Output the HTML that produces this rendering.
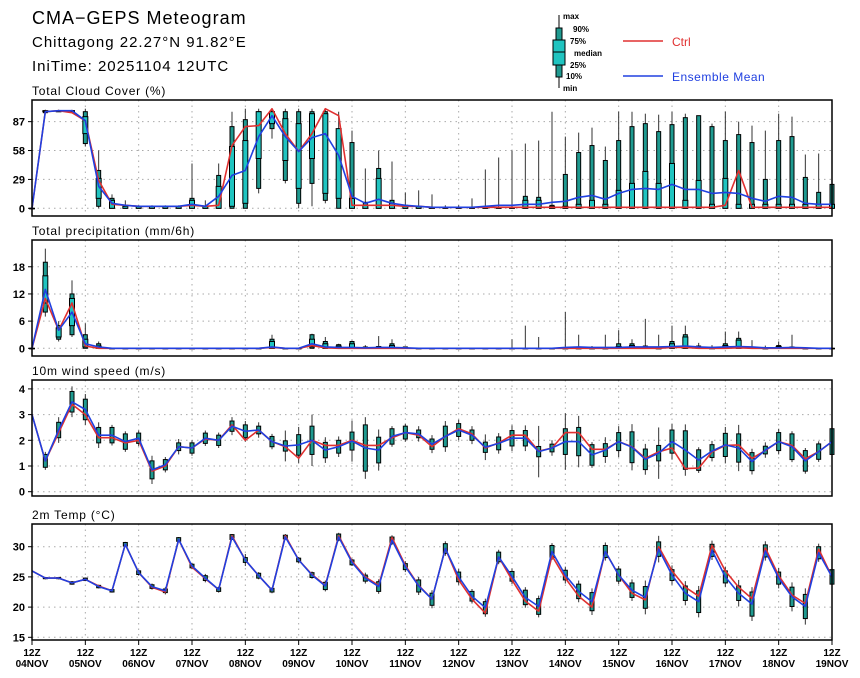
<!DOCTYPE html>
<html><head><meta charset="utf-8"><style>
body{margin:0;background:#fff;}
svg{display:block;font-family:"Liberation Sans",sans-serif;}
</style></head><body>
<svg id="chart" width="860" height="678" viewBox="0 0 860 678">
<text x="32" y="24" font-size="18" letter-spacing="1">CMA−GEPS Meteogram</text>
<text x="32" y="47" font-size="15" letter-spacing="1">Chittagong 22.27°N 91.82°E</text>
<text x="32" y="71" font-size="15" letter-spacing="1">IniTime: 20251104 12UTC</text>
<g>
<line x1="559" y1="15" x2="559" y2="88" stroke="#000"/>
<rect x="556" y="28" width="6" height="49" fill="#1f9a90" stroke="#000"/>
<rect x="553" y="40" width="12" height="25" fill="#20c4c0" stroke="#000"/>
<line x1="553" y1="52" x2="565" y2="52" stroke="#000"/>
<g font-size="8" font-weight="bold">
<text x="563" y="19">max</text>
<text x="573" y="32">90%</text>
<text x="570" y="44">75%</text>
<text x="574" y="56">median</text>
<text x="570" y="68">25%</text>
<text x="566" y="79">10%</text>
<text x="563" y="91">min</text>
</g>
<line x1="623" y1="41" x2="663" y2="41" stroke="#e03030" stroke-width="1.5"/>
<text x="672" y="46" font-size="12" fill="#e03030">Ctrl</text>
<line x1="623" y1="76" x2="663" y2="76" stroke="#2040e0" stroke-width="1.5"/>
<text x="672" y="81" font-size="12" fill="#2040e0" letter-spacing="0.5">Ensemble Mean</text>
</g>
</svg>
<script>
// ---- Cloud cover ----
const cMean=[0,97,98,98,88,22,5,3,2,2, 2,2,4,2,12,33,38,72,93,72, 57,71,75,53,12,5,9,5,3,2, 1,1,1,1,2,3,3,4,4,6, 7,11,13,9,15,19,20,19,24,19, 19,15,16,15,10,7,12,11,5,4,4];
const cCtrl=[0,97,98,96,88,28,4,3,2,2, 2,2,3,2,3,63,82,83,100,75, 57,75,100,93,3,3,3,3,2,2, 1,1,1,1,1,1,1,1,1,1, 1,1,1,1,1,1,1,1,1,1, 1,1,3,38,1,1,1,1,1,1,1];
const cMin=[0,96,97,97,62,0,0,0,0,0, 0,0,0,0,0,0,0,15,70,25, 0,2,5,0,0,0,0,0,0,0, 0,0,0,0,0,0,0,0,0,0, 0,0,0,0,0,0,0,0,0,0, 0,0,0,0,0,0,0,0,0,0,0];
const cP10=[0,96,97,97,65,2,0,0,0,0, 0,0,0,0,0,0,0,20,80,28, 5,25,8,0,0,0,0,0,0,0, 0,0,0,0,0,0,0,0,0,0, 0,0,0,0,0,0,0,0,0,0, 0,0,0,0,0,0,0,0,0,0,0];
const cP25=[0,97,97,97,75,10,0,0,0,0, 0,0,0,0,0,2,5,50,85,48, 20,50,15,10,0,0,0,0,0,0, 0,0,0,0,0,0,0,0,0,0, 0,0,0,0,0,0,0,0,0,0, 0,0,0,0,0,0,0,0,0,0,0];
const cP75=[0,98,98,98,92,30,8,2,2,2, 2,2,8,2,22,62,68,97,97,90, 85,95,95,80,10,3,30,5,2,2, 1,1,1,1,1,1,1,8,8,2, 2,4,8,4,18,25,37,25,45,8, 28,4,30,4,4,4,4,4,4,4,4];
const cP90=[0,98,98,98,97,38,10,3,2,2, 2,2,10,2,33,82,89,97,97,97, 97,97,97,78,66,6,40,8,3,2, 1,1,1,1,1,1,1,12,11,3, 34,56,63,48,68,82,85,77,84,91, 93,82,68,74,66,29,68,72,31,16,24];
const cMax=[0,99,99,99,100,58,14,8,3,3, 3,3,45,8,45,97,100,100,100,100, 100,100,100,97,78,40,58,47,16,18, 14,3,3,10,39,51,58,65,68,97, 72,76,81,62,97,97,95,94,97,95, 93,85,97,87,83,78,95,92,54,55,25];
const cTicks=[0,29,58,87];
// ---- Precipitation ----
const pMean=[0,13,4,8,1,0.3,0,0,0,0, 0,0,0,0,0,0,0,0,0.3,0, 0,1,0.3,0.2,0.2,0.1,0.2,0.2,0.1,0, 0,0,0,0,0,0,0,0,0,0, 0.2,0.3,0.2,0.2,0.2,0.3,0.3,0.3,0.4,0.5, 0.3,0.2,0.3,0.4,0.3,0.1,0.1,0.2,0.1,0,0];
const pCtrl=[0,11,4,10,0.5,0,0,0,0,0, 0,0,0,0,0,0,0,0,0.2,0, 0,0.6,0.1,0,0,0,0,0,0,0, 0,0,0,0,0,0,0,0,0,0, 0,0,0,0,0,0,0,0,0.2,0.2, 0,0,0,0.1,0,0,0,0,0,0,0];
const pMin=[0,7,1.5,2.5,0,0,0,0,0,0, 0,0,0,0,0,0,0,0,0,0, 0,0,0,0,0,0,0,0,0,0, 0,0,0,0,0,0,0,0,0,0, 0,0,0,0,0,0,0,0,0,0, 0,0,0,0,0,0,0,0,0,0,0];
const pP10=[0,8,2,3,0,0,0,0,0,0, 0,0,0,0,0,0,0,0,0,0, 0,0,0,0,0,0,0,0,0,0, 0,0,0,0,0,0,0,0,0,0, 0,0,0,0,0,0,0,0,0,0, 0,0,0,0,0,0,0,0,0,0,0];
const pP25=[0,10,2.5,5,0.3,0,0,0,0,0, 0,0,0,0,0,0,0,0,0,0, 0,0.3,0,0,0,0,0,0,0,0, 0,0,0,0,0,0,0,0,0,0, 0,0,0,0,0,0,0,0,0,0, 0,0,0,0,0,0,0,0,0,0,0];
const pP75=[0,16,4.5,11,2,0.5,0,0,0,0, 0,0,0,0,0,0,0,0,1.5,0, 0,2,1,0.5,1,0.1,0.3,0.6,0.1,0, 0,0,0,0,0,0,0,0,0,0, 0,0,0,0,0.4,0.6,0.3,0,1,2.5, 0.2,0,0.6,1.8,0.1,0,0.4,0.1,0,0,0];
const pP90=[0,19,5,12,3,1,0,0,0,0, 0,0,0,0,0,0,0,0,2,0, 0,3,1.5,0.8,1.5,0.3,0.4,1,0.3,0, 0,0,0,0,0,0,0,0,0,0, 0,0,0,0,1,1,0.5,0,1.5,3, 0.5,0.2,1,2.2,0.2,0,0.6,0.3,0,0,0];
const pMax=[0,22,6,15,5.5,1.5,0,0,0,0, 0,0,0,0,0,0,0,0,3,0, 0,3.2,2.5,1,1.7,0.7,2.7,2,0.4,0, 0,0,0,0,0,0,2,5,2.5,0, 8,3,0.5,3,4,2,6.5,3,5,5, 1.2,0.7,3.7,3.7,1.8,0.6,1.5,3,0,0,0];
const pTicks=[0,6,12,18];
// ---- Wind ----
const wMean=[3.0,1.2,2.4,3.5,3.2,2.2,2.2,1.95,2.08,0.85, 1.05,1.75,1.7,2.08,2.0,2.55,2.35,2.4,1.95,1.78, 1.82,2.0,1.62,1.75,1.97,1.7,1.62,2.15,2.3,2.25, 1.85,2.15,2.4,2.2,1.73,1.88,2.08,2.08,1.56,1.7, 1.95,1.95,1.43,1.62,1.95,1.73,1.26,1.5,1.95,1.62, 1.23,1.58,1.82,1.7,1.17,1.62,1.95,1.75,1.2,1.56,1.95];
const wCtrl=[3.0,1.2,2.3,3.4,3.0,2.1,2.1,1.9,2.0,0.8, 1.0,1.75,1.7,2.05,2.0,2.6,2.0,2.4,1.95,1.75, 1.3,2.0,1.8,1.8,2.0,1.8,1.8,2.1,2.3,2.2, 1.75,2.15,2.45,2.25,1.7,1.9,2.2,2.2,1.58,1.7, 2.3,2.3,1.65,1.65,1.95,1.75,1.3,1.55,1.7,0.9, 0.92,1.55,1.8,1.82,1.3,1.6,1.95,1.8,1.28,1.56,1.95];
const wBox=[0,0.25,0.3,0.4,0.4,0.3,0.3,0.3,0.2,0.35, 0.2,0.15,0.2,0.2,0.2,0.2,0.25,0.15,0.2,0.2, 0.4,0.55,0.3,0.25,0.35,0.9,0.5,0.3,0.25,0.15, 0.2,0.4,0.25,0.2,0.2,0.25,0.3,0.3,0.2,0.15, 0.5,0.55,0.4,0.25,0.35,0.6,0.4,0.3,0.45,0.75, 0.4,0.25,0.45,0.55,0.35,0.15,0.35,0.5,0.4,0.3,0.5];
const wWhisk=[0,0.35,0.5,0.6,0.6,0.5,0.4,0.4,0.3,0.55, 0.3,0.3,0.3,0.3,0.3,0.35,0.4,0.3,0.3,0.6, 0.7,1.0,0.5,0.4,0.8,1.2,0.8,0.4,0.35,0.3, 0.35,0.6,0.4,0.35,0.5,0.4,0.5,0.5,1.0,0.3, 1.1,1.0,0.5,0.5,0.6,0.9,0.6,1.0,0.7,1.0, 0.5,0.4,0.7,0.9,0.5,0.3,0.5,0.6,0.5,0.4,0.6];
const wTicks=[0,1,2,3,4];
// ---- Temperature ----
const tMean=[26.0,24.8,24.8,24.0,24.6,23.4,22.7,30.4,25.7,23.4, 22.7,31.2,26.8,24.8,22.9,31.6,27.8,25.2,22.8,31.6, 27.8,25.3,23.5,31.6,27.4,24.8,23.4,31.1,26.7,23.5, 21.3,29.7,25.0,21.8,19.9,28.3,25.1,21.6,20.1,29.2, 25.3,22.6,20.9,29.2,25.3,22.8,21.6,29.6,25.3,22.3, 20.9,29.4,25.0,22.3,20.5,29.3,24.8,21.7,20.1,29.0,25.0];
const tCtrl=[26.0,24.8,24.8,24.0,24.6,23.5,22.7,30.4,25.7,23.3, 22.5,31.2,26.6,24.7,22.9,31.8,27.8,25.2,22.8,31.8, 27.8,25.4,23.6,31.8,27.6,25.0,23.6,31.5,26.9,23.6, 21.3,29.7,24.5,21.3,19.0,28.3,24.5,21.0,19.3,28.5, 24.8,21.8,20.0,29.2,25.3,22.3,21.2,30.0,26.0,23.3, 21.8,30.2,26.0,23.3,21.4,29.8,25.2,22.0,20.6,29.6,25.0];
const tBox=[0,0.1,0.1,0.2,0.2,0.2,0.2,0.3,0.3,0.3, 0.3,0.3,0.3,0.4,0.3,0.4,0.4,0.4,0.3,0.3, 0.3,0.4,0.6,0.5,0.4,0.5,0.8,0.5,0.5,1.0, 1.0,0.8,0.8,0.8,1.0,0.8,0.8,1.2,1.3,1.0, 0.8,1.2,1.5,1.0,1.0,1.2,1.8,1.2,0.9,1.2, 1.8,1.0,1.0,1.2,2.0,1.0,1.0,1.6,2.0,1.0,1.2];
const tWhisk=[0,0.2,0.2,0.3,0.3,0.3,0.3,0.4,0.5,0.5, 0.6,0.4,0.5,0.7,0.5,0.5,1.0,0.6,0.5,0.5, 0.5,0.6,0.9,0.7,0.6,0.9,1.2,0.8,0.9,1.5, 1.5,1.2,1.3,1.2,1.5,1.2,1.3,1.7,1.8,1.4, 1.4,1.8,2.2,1.5,1.5,1.8,2.8,2.2,1.6,2.0, 2.6,1.6,1.7,2.2,2.8,1.6,1.7,2.4,3.0,1.5,1.8];
const tTicks=[15,20,25,30];
const dayLabels=["04NOV","05NOV","06NOV","07NOV","08NOV","09NOV","10NOV","11NOV","12NOV","13NOV","14NOV","15NOV","16NOV","17NOV","18NOV","19NOV"];

const NS="http://www.w3.org/2000/svg";
const svg=document.getElementById('chart');
const X0=32,X1=832,N=60;
function xScale(i){return X0+(X1-X0)*i/N;}
function mk(tag,attrs,parent){const e=document.createElementNS(NS,tag);for(const k in attrs)e.setAttribute(k,attrs[k]);(parent||svg).appendChild(e);return e;}

const panels=[
 {key:'cloud',title:'Total Cloud Cover (%)',top:100,bot:216,y0:208.3,k:0.996,v0:0,ticks:cTicks},
 {key:'precip',title:'Total precipitation (mm/6h)',top:240,bot:356,y0:348.3,k:4.53,v0:0,ticks:pTicks},
 {key:'wind',title:'10m wind speed (m/s)',top:380,bot:496,y0:491.7,k:25.7,v0:0,ticks:wTicks},
 {key:'temp',title:'2m Temp (°C)',top:524,bot:640,y0:546.7,k:6.04,v0:30,ticks:tTicks}
];
function yS(p,v){return p.y0-(v-p.v0)*p.k;}

function drawBox(g,p,i,mn,p10,p25,p75,p90,mx){
  const x=xScale(i);
  const w=mk('line',{x1:x,y1:yS(p,mn),x2:x,y2:yS(p,mx),stroke:'#333','stroke-width':1},g);
  
  
  const b=mk('rect',{x:x-2,y:yS(p,p90),width:4,height:Math.max(0.5,yS(p,p10)-yS(p,p90)),fill:'#1f9a90',stroke:'#000','stroke-width':1},g);
  
  
  if(p25!==null){
    const b2=mk('rect',{x:x-2.5,y:yS(p,p75),width:5,height:Math.max(0.5,yS(p,p25)-yS(p,p75)),fill:'#20c4c0',stroke:'#000','stroke-width':1},g);
    
    
  }
}

panels.forEach(p=>{
  const g=mk('g',{});
  
  
  const t=mk('text',{x:32,y:p.top-5,'font-size':12,'letter-spacing':0.8},g);
  t.textContent=p.title;
  
  
  // grid
  for(let d=1;d<15;d++){
    const x=xScale(d*4);
    const gl=mk('line',{x1:x,y1:p.top,x2:x,y2:p.bot,stroke:'#aaa','stroke-dasharray':'1.5,4'},g);
    
    
  }
  p.ticks.forEach(v=>{
    const y=yS(p,v);
    const hl=mk('line',{x1:X0,y1:y,x2:X1,y2:y,stroke:'#aaa','stroke-dasharray':'1.5,4'},g);
    
    
    const tk=mk('line',{x1:X0-4,y1:y,x2:X0,y2:y,stroke:'#000'},g);
    
    
    const tl=mk('text',{x:X0-7,y:y+4,'font-size':11,'font-weight':'bold','text-anchor':'end'},g);
    tl.textContent=v;
    
    
  });
  // boxes
  for(let i=0;i<=N;i++){
    if(p.key==='cloud')drawBox(g,p,i,cMin[i],cP10[i],cP25[i],cP75[i],cP90[i],cMax[i]);
    else if(p.key==='precip')drawBox(g,p,i,pMin[i],pP10[i],pP25[i],pP75[i],pP90[i],pMax[i]);
    else if(p.key==='wind'&&i>0)drawBox(g,p,i,wMean[i]-wWhisk[i],wMean[i]-wBox[i],null,null,wMean[i]+wBox[i],wMean[i]+wWhisk[i]);
    else if(p.key==='temp'&&i>0)drawBox(g,p,i,tMean[i]-tWhisk[i],tMean[i]-tBox[i],null,null,tMean[i]+tBox[i],tMean[i]+tWhisk[i]);
  }
  const series={cloud:[cCtrl,cMean],precip:[pCtrl,pMean],wind:[wCtrl,wMean],temp:[tCtrl,tMean]}[p.key];
  const cols=['#e03030','#2040e0'],names=['ctrl-line','mean-line'];
  series.forEach((arr,si)=>{
    const pts=arr.map((v,i)=>xScale(i).toFixed(1)+','+yS(p,v).toFixed(1)).join(' ');
    const pl=mk('polyline',{points:pts,fill:'none',stroke:cols[si],'stroke-width':1.6,'stroke-linejoin':'round'},g);
    
    
  });
  const fr=mk('rect',{x:X0,y:p.top,width:X1-X0,height:p.bot-p.top,fill:'none',stroke:'#000','stroke-width':1.5},g);
  
  
});
// x axis
const xa=mk('g',{});


dayLabels.forEach((lab,d)=>{
  const x=xScale(d*4);
  const tk=mk('line',{x1:x,y1:640,x2:x,y2:645,stroke:'#000'},xa);
  
  
  const t1=mk('text',{x:x,y:656,'font-size':10,'font-weight':'bold','text-anchor':'middle'},xa);
  t1.textContent='12Z';
  
  
  const t2=mk('text',{x:x,y:667,'font-size':10,'font-weight':'bold','text-anchor':'middle'},xa);
  t2.textContent=lab;
  
  
});
</script>
</body></html>
